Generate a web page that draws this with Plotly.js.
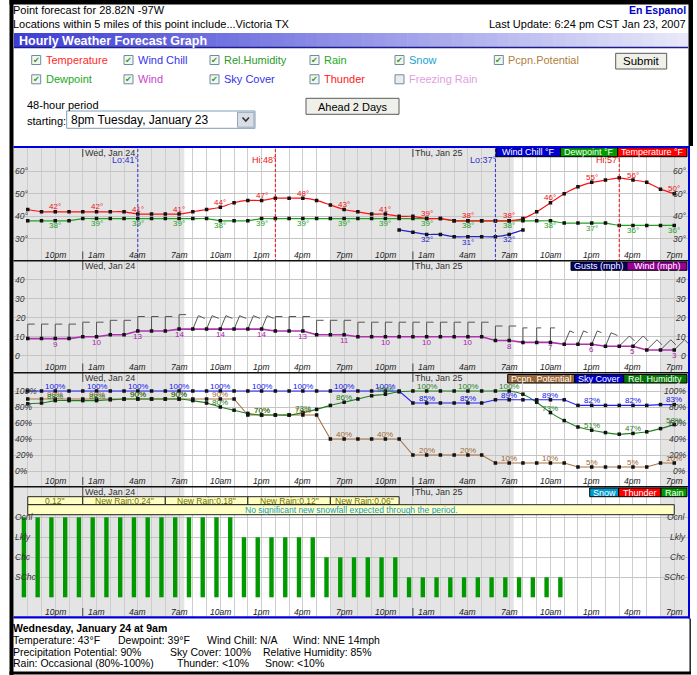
<!DOCTYPE html>
<html><head><meta charset="utf-8">
<script src="https://cdn.plot.ly/plotly-3.0.1.min.js"></script>
<style>html,body{margin:0;padding:0;background:#fff;}#chart{width:697px;height:675px;}</style>
</head><body><div id="chart"></div>
<script>
// ---------------- DATA ----------------
const hourLabels = ["8pm","9pm","10pm","11pm","12am","1am","2am","3am","4am","5am","6am","7am","8am","9am","10am","11am","12pm","1pm","2pm","3pm","4pm","5pm","6pm","7pm","8pm","9pm","10pm","11pm","12am","1am","2am","3am","4am","5am","6am","7am","8am","9am","10am","11am","12pm","1pm","2pm","3pm","4pm","5pm","6pm","7pm"];
const labelIdx = [2,5,8,11,14,17,20,23,26,29,32,35,38,41,44,47];
const temperature = [43,42,42,42,42,42,42,42,41,41,41,41,42,43,44,46,47,47,48,48,48,47,45,43,42,41,41,40,40,39,39,38,38,38,38,38,39,42,46,50,53,55,56,57,56,55,52,50];
const dewpoint = [38,38,38,38,39,39,39,39,39,39,39,39,39,39,38,38,38,39,39,39,39,39,39,39,39,39,39,39,39,39,39,38,38,38,38,38,38,38,38,37,37,37,37,36,36,36,36,36];
const windChill = [null,null,null,null,null,null,null,null,null,null,null,null,null,null,null,null,null,null,null,null,null,null,null,null,null,null,null,34,33,32,32,31,31,31,31,32,34,null,null,null,null,null,null,null,null,null,null,null];
const windSpeed = [9,9,9,9,10,10,11,11,13,13,13,14,14,14,14,14,14,14,13,13,13,11,11,11,10,10,10,10,10,10,10,10,10,10,8,8,7,7,7,6,6,6,5,5,5,3,3,3];
const windDir = [0,0,0,0,0,0,0,0,0,0,0,0,22.5,22.5,22.5,22.5,22.5,22.5,0,0,0,0,0,0,0,0,0,0,0,0,0,0,0,0,0,0,0,0,0,22.5,22.5,22.5,22.5,45,45,45,45,45];
const skyCover = [100,100,100,100,100,100,100,100,100,100,100,100,100,100,100,100,100,100,100,100,100,100,100,100,100,100,100,100,85,85,85,85,85,85,89,89,89,89,89,89,82,82,82,82,82,82,83,83];
const pcpnPotential = [90,90,90,90,90,90,90,90,90,90,90,90,90,90,90,90,70,70,70,70,70,70,40,40,40,40,40,40,20,20,20,20,20,20,10,10,10,10,10,10,5,5,5,5,5,5,10,10];
const relHumidity = [84,85,88,88,88,88,89,90,90,90,90,90,88,85,80,76,72,70,70,70,73,77,82,86,90,94,96,99,100,100,100,100,100,100,100,100,96,86,73,63,55,51,48,46,47,49,53,58];
const rainLevel = [4,4,4,4,4,4,4,4,4,4,4,4,4,4,4,4,3,3,3,3,3,3,2,2,2,2,2,2,1,1,1,1,1,1,1,1,1,1,1,1,0,0,0,0,0,0,0,0];
const rainLevelNames = ["SChc","Chc","Lkly","Ocnl"];
const rainLevelVals = [1,2,3,4];
const tempTicks = [30,40,50,60];
const windTicks = [0,10,20,30,40];
const pctTicks = [0,20,40,60,80,100];
const dayLabels = ["Wed, Jan 24","Thu, Jan 25"];
const dayIdx = [4,28];
const hiloLabels = ["Lo:41°","Hi:48°","Lo:37°","Hi:57°"];
const hiloIdx = [8,18,34,43];
const hiloColor = ["#3333cc","#ee1111","#3333cc","#ee1111"];
const nightStart = [-1,22.05,45.98];
const nightEnd = [11.38,35.33,48];
const rainTotals = ['0.12"','New Rain:0.24"','New Rain:0.18"','New Rain:0.12"','New Rain:0.06"'];
const rainStart = [0,4,10,16,22];
const rainEnd = [4,10,16,22,27];
const snowNote = "No significant new snowfall expected through the period.";

// ---------------- GEOMETRY ----------------
const W = 697, H = 675;
const FONT = "Liberation Sans, Arial, sans-serif";
const X0 = 14, X1 = 688, XR = [-1, 48];
const pxX = (X1 - X0) / (XR[1] - XR[0]);
const panels = [
  {top:148, bottom:260.5, range:[20.5,70.15]},
  {top:261, bottom:372.5, range:[-8.84,49.84]},
  {top:373, bottom:486, range:[-18.75,122.5]},
  {top:487, bottom:617, range:[-0.985,5.515]}
];
const pxY2 = (panels[1].bottom - panels[1].top) / (panels[1].range[1] - panels[1].range[0]);
const hourIdx = hourLabels.map((_, i) => i);

const fx = x => x / W, fy = y => 1 - y / H;
const shapes = [], annotations = [];
function A(o){ return Object.assign({showarrow:false, borderpad:0, borderwidth:0, xanchor:'left', yanchor:'middle'}, o); }
function T(text, x, y, size, color, extra){ annotations.push(A(Object.assign({text, x:fx(x), y:fy(y), xref:'paper', yref:'paper', font:{family:FONT, size, color}}, extra||{}))); }
function R(x0,y0,x1,y1,fill,lc,lw,layer){ shapes.push({type:'rect', xref:'paper', yref:'paper', x0:fx(x0), x1:fx(x1), y0:fy(y1), y1:fy(y0), fillcolor:fill, line:{color:lc||'rgba(0,0,0,0)', width:lw||0}, layer:layer||'above'}); }
function L(x0,y0,x1,y1,color,w,dash){ shapes.push({type:'line', xref:'paper', yref:'paper', x0:fx(x0), y0:fy(y0), x1:fx(x1), y1:fy(y1), line:{color, width:w, dash:dash||'solid'}, layer:'above'}); }

// ---------------- HEADER ----------------
T('Point forecast for 28.82N -97W', 13, 9.5, 11, '#000');
T('Locations within 5 miles of this point include...Victoria TX', 13, 23.5, 11, '#000');
T('<b>En Espanol</b>', 686, 10, 10.5, '#0000cc', {xanchor:'right'});
T('Last Update: 6:24 pm CST Jan 23, 2007', 686, 23.5, 11, '#000', {xanchor:'right'});
(function(){
  const n = 60, c0 = [62,62,212], c1 = [232,232,250];
  for (let k = 0; k < n; k++) {
    const t = k / (n - 1);
    const c = c0.map((v, j) => Math.round(v + (c1[j] - v) * t));
    const xa = X0 + (X1 - X0) * k / n, xb = X0 + (X1 - X0) * (k + 1) / n + 0.6;
    R(xa, 33, Math.min(xb, X1), 47, 'rgb(' + c.join(',') + ')');
  }
  L(X0, 47.5, X1, 47.5, '#1c1c8c', 1.5);
})();
T('<b>Hourly Weather Forecast Graph</b>', 19, 40.5, 12.5, '#fff');

const cbX = [31.7,124,210,310,395,494.3];
const cbRows = [
  {y:60, labels:['Temperature','Wind Chill','Rel.Humidity','Rain','Snow','Pcpn.Potential'], colors:['#ff2a2a','#3333ee','#2a9a2a','#22aa22','#1a9fd0','#b08040'], checked:[1,1,1,1,1,1]},
  {y:79.3, labels:['Dewpoint','Wind','Sky Cover','Thunder','Freezing Rain'], colors:['#22aa22','#cc44cc','#3333ee','#ff2020','#e0a0e0'], checked:[1,1,1,1,0]}
];
cbRows.forEach(row => {
  row.labels.forEach((lab, k) => {
    const bx = cbX[k];
    R(bx, row.y - 4.5, bx + 9, row.y + 4.5, row.checked[k] ? '#f4f4f0' : '#ececec', '#6f8aa6', 1);
    if (row.checked[k]) annotations.push(A({text:'✔', x:fx(bx + 4.6), y:fy(row.y + 0.3), xref:'paper', yref:'paper', xanchor:'center', font:{family:'DejaVu Sans', size:8, color:'#21a121'}}));
    T(lab, bx + 14, row.y, 11, row.colors[k]);
  });
});
R(615.7, 53.3, 666.7, 69, '#f0f0ea', '#5a5a5a', 1);
T('Submit', 641.2, 61.2, 11.5, '#000', {xanchor:'center'});
T('48-hour period', 27, 104.5, 11, '#000');
T('starting:', 27, 120.7, 11, '#000');
R(66.7, 111, 255, 128.3, '#fff', '#7f9db9', 1);
T('8pm Tuesday, January 23', 70.5, 120, 12, '#000');
R(237.5, 112.3, 254, 127.2, '#d9dde6', '#9aa6b8', 1);
shapes.push({type:'path', xref:'paper', yref:'paper', path:'M'+fx(242.5)+','+fy(117.5)+' L'+fx(245.8)+','+fy(121)+' L'+fx(249)+','+fy(117.5), line:{color:'#333', width:1.6}, layer:'above'});
R(306, 98.3, 399, 114.3, '#f0f0ea', '#5a5a5a', 1);
T('Ahead 2 Days', 352.5, 106.5, 11, '#000', {xanchor:'center'});

// ---------------- PANELS ----------------
const layout = {
  width: W, height: H, margin:{l:0,r:0,t:0,b:0},
  paper_bgcolor:'#fff', plot_bgcolor:'rgba(0,0,0,0)',
  showlegend:false, hovermode:false
};
const yTicks = [tempTicks, windTicks, pctTicks, rainLevelVals];
panels.forEach((p, k) => {
  const s = k === 0 ? '' : String(k + 1);
  layout['xaxis' + s] = {domain:[fx(X0), fx(X1)], range:XR, anchor:'y' + s, showgrid:true, gridcolor:'#cdcdcd', gridwidth:1,
    tickmode:'linear', tick0:0, dtick:1, showticklabels:false, zeroline:false, showline:false, ticks:''};
  layout['yaxis' + s] = {domain:[fy(p.bottom), fy(p.top)], range:p.range, anchor:'x' + s, showgrid:true, gridcolor:'#c4c4c4', gridwidth:1,
    tickmode:'array', tickvals:yTicks[k], showticklabels:false, zeroline:false, showline:false, ticks:''};
  nightStart.forEach((ns, j) => {
    shapes.push({type:'rect', xref:'x' + s, yref:'paper', x0:ns, x1:nightEnd[j], y0:fy(p.bottom), y1:fy(p.top), fillcolor:'#e4e4e4', line:{width:0}, layer:'below'});
  });
  dayIdx.forEach((d, j) => {
    shapes.push({type:'line', xref:'x' + s, yref:'paper', x0:d, x1:d, y0:fy(p.top + (k === 0 ? 1 : 0)), y1:fy(p.top + 9), line:{color:'#444', width:1}, layer:'above'});
    shapes.push({type:'line', xref:'x' + s, yref:'paper', x0:d, x1:d, y0:fy(p.bottom - 9), y1:fy(p.bottom - 1), line:{color:'#444', width:1}, layer:'above'});
    annotations.push(A({text:dayLabels[j], x:d, xref:'x' + s, y:fy(p.top + 5), yref:'paper', xshift:2, font:{family:FONT, size:9, color:'#333'}}));
  });
  labelIdx.forEach(i => {
    annotations.push(A({text:'<i>' + hourLabels[i] + '</i>', x:i, xref:'x' + s, y:fy(p.bottom - 5.5), yref:'paper', xanchor:'center', font:{family:FONT, size:8.5, color:'#222'}}));
  });
});
function yLabels(vals, texts, k){
  const s = k === 0 ? '' : String(k + 1);
  vals.forEach((v, j) => {
    annotations.push(A({text:'<i>' + texts[j] + '</i>', x:fx(15), xref:'paper', y:v, yref:'y' + s, font:{family:FONT, size:8.5, color:'#333'}}));
    annotations.push(A({text:'<i>' + texts[j] + '</i>', x:fx(686), xref:'paper', y:v, yref:'y' + s, xanchor:'right', font:{family:FONT, size:8.5, color:'#333'}}));
  });
}
yLabels(tempTicks, tempTicks.map(v => v + '°'), 0);
yLabels(windTicks, windTicks.map(v => String(v)), 1);
yLabels(pctTicks, pctTicks.map(v => v + '%'), 2);
yLabels(rainLevelVals, rainLevelNames, 3);

hiloIdx.forEach((h, j) => {
  shapes.push({type:'line', xref:'x', yref:'paper', x0:h, x1:h, y0:fy(149), y1:fy(260), line:{color:hiloColor[j], width:1, dash:'3px,2px'}, layer:'above'});
  annotations.push(A({text:hiloLabels[j], x:h, xref:'x', y:fy(160.5), yref:'paper', xanchor:'right', xshift:1.5, font:{family:FONT, size:9, color:hiloColor[j]}}));
});

function tags(list, y0, y1){
  list.forEach(t => {
    R(t[1], y0, t[2], y1, t[3], '#000', 1);
    T(t[0], (t[1] + t[2]) / 2, (y0 + y1) / 2 + 0.3, 9, '#fff', {xanchor:'center'});
  });
}
tags([['Wind Chill °F',496,560.5,'#0000cc'],['Dewpoint °F',560.5,617.7,'#009900'],['Temperature °F',617.7,687,'#ff0000']], 147.7, 156.7);
tags([['Gusts (mph)',571,627,'#000066'],['Wind (mph)',627,687,'#990099']], 262, 270.3);
tags([['Pcpn. Potential',507.7,574.7,'#996633'],['Sky Cover',574.7,623.7,'#0000cc'],['Rel. Humidity',623.7,687,'#007700']], 374.5, 383);
tags([['Snow',589.7,618.7,'#0099cc'],['Thunder',618.7,661,'#ff0000'],['Rain',661,687,'#009900']], 488, 496.7);

rainTotals.forEach((t, j) => {
  shapes.push({type:'rect', xref:'x4', yref:'paper', x0:rainStart[j], x1:rainEnd[j], y0:fy(504.7), y1:fy(496.7), fillcolor:'#ffffc4', line:{color:'#222', width:1}, layer:'above'});
  annotations.push(A({text:t, x:(rainStart[j] + rainEnd[j]) / 2, xref:'x4', y:fy(500.9), yref:'paper', xanchor:'center', font:{family:FONT, size:8.5, color:'#6e6e00'}}));
});
shapes.push({type:'rect', xref:'x4', yref:'paper', x0:0, x1:47, y0:fy(514.7), y1:fy(504.7), fillcolor:'#ffffc4', line:{color:'#222', width:1}, layer:'above'});
annotations.push(A({text:snowNote, x:23.5, xref:'x4', y:fy(509.8), yref:'paper', xanchor:'center', font:{family:FONT, size:8.5, color:'#1199cc'}}));

// frame lines
L(13.5, 147, 690, 147, '#0000dd', 2);
L(13.5, 260.8, 688, 260.8, '#111', 1.5);
L(13.5, 372.8, 688, 372.8, '#111', 1.5);
L(13.5, 486.8, 688, 486.8, '#111', 1.5);
L(13.5, 617.3, 690, 617.3, '#0000dd', 2.2);
L(689, 146, 689, 618.4, '#0000dd', 2);
R(9.5, 0, 13.5, 675, '#000');
R(9.5, 0, 693, 4.5, '#000');
R(688.5, 0, 693, 146, '#000');
L(690.2, 618.4, 690.2, 673, '#222', 1.5);
R(9.5, 671.6, 691, 674.4, '#000');

const det = [
  [['<b>Wednesday, January 24 at 9am</b>', 13]],
  [['Temperature: 43°F', 13], ['Dewpoint: 39°F', 118], ['Wind Chill: N/A', 207], ['Wind: NNE 14mph', 293]],
  [['Precipitation Potential: 90%', 13], ['Sky Cover: 100%', 170], ['Relative Humidity: 85%', 263]],
  [['Rain: Occasional (80%-100%)', 13], ['Thunder: <10%', 177], ['Snow: <10%', 265]]
];
const detY = [628.3, 640.2, 651.8, 663.3];
det.forEach((row, r) => row.forEach(c => T(c[0].replace('<10', '&lt;10'), c[1], detY[r], 10.5, '#000')));

function dataLabels(vals, xr, yr, color, yshift, suffix){
  labelIdx.forEach(i => {
    const v = vals[i];
    if (v === null || v === undefined) return;
    annotations.push(A({text:String(v) + suffix, x:i, y:v, xref:xr, yref:yr, xanchor:'center', yshift, font:{family:FONT, size:8, color}}));
  });
}
dataLabels(temperature, 'x', 'y', '#ee1111', 5, '°');
dataLabels(dewpoint, 'x', 'y', '#22a022', -5, '°');
dataLabels(windChill, 'x', 'y', '#2222cc', -5.5, '°');
dataLabels(windSpeed, 'x2', 'y2', '#aa22aa', -5.5, '');
dataLabels(skyCover, 'x3', 'y3', '#1111ee', 4.8, '%');
dataLabels(pcpnPotential, 'x3', 'y3', '#a06a30', 4.5, '%');
dataLabels(relHumidity, 'x3', 'y3', '#1e801e', 4.5, '%');

// ---------------- TRACES ----------------
const mk = {symbol:'square', size:3.5, color:'#111'};
function line(y, xa, ya, color, w, smooth){
  return {type:'scatter', mode:'lines+markers', x:hourIdx, y, xaxis:xa, yaxis:ya, connectgaps:false,
    line:{color, width:w, shape: smooth ? 'spline' : 'linear', smoothing:0.5}, marker:mk, hoverinfo:'skip'};
}
const STAFF = 14.5;
const barbX = [], barbY = [];
windSpeed.forEach((s, i) => {
  const th = windDir[i] * Math.PI / 180;
  const tx = i + STAFF * Math.sin(th) / pxX, ty = s + STAFF * Math.cos(th) / pxY2;
  const bl = (s >= 6 && s < 8) ? 4.5 : 7;
  barbX.push(i, tx, tx + bl * Math.cos(th) / pxX, null);
  barbY.push(s, ty, ty - bl * Math.sin(th) / pxY2, null);
});
const traces = [
  line(dewpoint, 'x', 'y', '#22a022', 1.2, true),
  line(windChill, 'x', 'y', '#2222cc', 1.2, true),
  line(temperature, 'x', 'y', '#ff1111', 1.2, true),
  {type:'scatter', mode:'lines', x:barbX, y:barbY, xaxis:'x2', yaxis:'y2', line:{color:'#555', width:1}, hoverinfo:'skip'},
  line(windSpeed, 'x2', 'y2', '#b030b0', 1.6, false),
  line(pcpnPotential, 'x3', 'y3', '#a87040', 1.1, false),
  line(relHumidity, 'x3', 'y3', '#208020', 1.1, true),
  line(skyCover, 'x3', 'y3', '#2020ff', 1.1, false),
  {type:'bar', x:hourIdx, y:rainLevel, xaxis:'x4', yaxis:'y4', width:0.32, offset:-0.44, marker:{color:'#009900', line:{width:0}}, hoverinfo:'skip'}
];
layout.shapes = shapes;
layout.annotations = annotations;
Plotly.newPlot('chart', traces, layout, {displayModeBar:false, staticPlot:true});
</script>
</body></html>
